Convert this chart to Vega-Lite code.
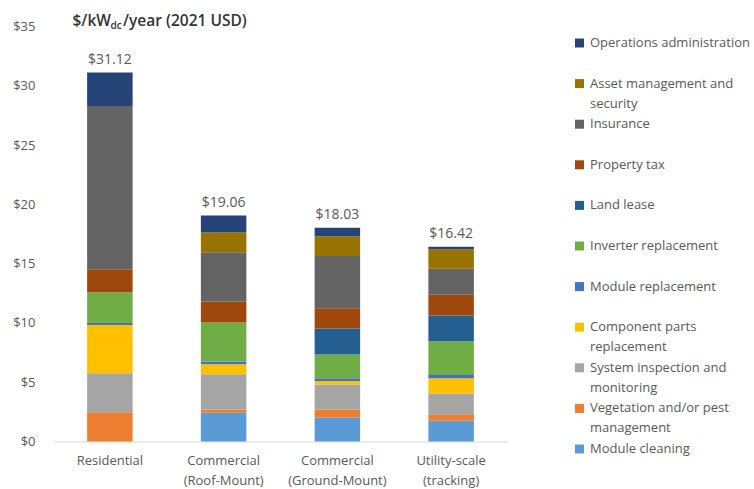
{
  "$schema": "https://vega.github.io/schema/vega-lite/v6.json",
  "autosize": {"type": "none"},
  "width": 455,
  "height": 415,
  "padding": {"left": 53, "top": 26.5, "right": 246, "bottom": 47.5},
  "background": "white",
  "config": {
    "view": {"stroke": null},
    "font": "Open Sans",
    "style": {"guide-label": {"lineHeight": 20}}
  },
  "datasets": {
    "costs": [
      {"segment": "Residential", "component": "Module cleaning", "cost": 0},
      {"segment": "Residential", "component": "Vegetation and/or pest management", "cost": 2.46},
      {"segment": "Residential", "component": "System inspection and monitoring", "cost": 3.29},
      {"segment": "Residential", "component": "Component parts replacement", "cost": 4.07},
      {"segment": "Residential", "component": "Module replacement", "cost": 0.18},
      {"segment": "Residential", "component": "Inverter replacement", "cost": 2.58},
      {"segment": "Residential", "component": "Land lease", "cost": 0},
      {"segment": "Residential", "component": "Property tax", "cost": 1.94},
      {"segment": "Residential", "component": "Insurance", "cost": 13.77},
      {"segment": "Residential", "component": "Asset management and security", "cost": 0},
      {"segment": "Residential", "component": "Operations administration", "cost": 2.83},
      {"segment": "Commercial (Roof-Mount)", "component": "Module cleaning", "cost": 2.42},
      {"segment": "Commercial (Roof-Mount)", "component": "Vegetation and/or pest management", "cost": 0.28},
      {"segment": "Commercial (Roof-Mount)", "component": "System inspection and monitoring", "cost": 2.98},
      {"segment": "Commercial (Roof-Mount)", "component": "Component parts replacement", "cost": 0.84},
      {"segment": "Commercial (Roof-Mount)", "component": "Module replacement", "cost": 0.22},
      {"segment": "Commercial (Roof-Mount)", "component": "Inverter replacement", "cost": 3.29},
      {"segment": "Commercial (Roof-Mount)", "component": "Land lease", "cost": 0},
      {"segment": "Commercial (Roof-Mount)", "component": "Property tax", "cost": 1.77},
      {"segment": "Commercial (Roof-Mount)", "component": "Insurance", "cost": 4.16},
      {"segment": "Commercial (Roof-Mount)", "component": "Asset management and security", "cost": 1.66},
      {"segment": "Commercial (Roof-Mount)", "component": "Operations administration", "cost": 1.44},
      {"segment": "Commercial (Ground-Mount)", "component": "Module cleaning", "cost": 2.02},
      {"segment": "Commercial (Ground-Mount)", "component": "Vegetation and/or pest management", "cost": 0.67},
      {"segment": "Commercial (Ground-Mount)", "component": "System inspection and monitoring", "cost": 2.11},
      {"segment": "Commercial (Ground-Mount)", "component": "Component parts replacement", "cost": 0.31},
      {"segment": "Commercial (Ground-Mount)", "component": "Module replacement", "cost": 0.22},
      {"segment": "Commercial (Ground-Mount)", "component": "Inverter replacement", "cost": 2.0},
      {"segment": "Commercial (Ground-Mount)", "component": "Land lease", "cost": 2.19},
      {"segment": "Commercial (Ground-Mount)", "component": "Property tax", "cost": 1.71},
      {"segment": "Commercial (Ground-Mount)", "component": "Insurance", "cost": 4.41},
      {"segment": "Commercial (Ground-Mount)", "component": "Asset management and security", "cost": 1.66},
      {"segment": "Commercial (Ground-Mount)", "component": "Operations administration", "cost": 0.73},
      {"segment": "Utility-scale (tracking)", "component": "Module cleaning", "cost": 1.74},
      {"segment": "Utility-scale (tracking)", "component": "Vegetation and/or pest management", "cost": 0.56},
      {"segment": "Utility-scale (tracking)", "component": "System inspection and monitoring", "cost": 1.74},
      {"segment": "Utility-scale (tracking)", "component": "Component parts replacement", "cost": 1.29},
      {"segment": "Utility-scale (tracking)", "component": "Module replacement", "cost": 0.28},
      {"segment": "Utility-scale (tracking)", "component": "Inverter replacement", "cost": 2.84},
      {"segment": "Utility-scale (tracking)", "component": "Land lease", "cost": 2.18},
      {"segment": "Utility-scale (tracking)", "component": "Property tax", "cost": 1.74},
      {"segment": "Utility-scale (tracking)", "component": "Insurance", "cost": 2.2},
      {"segment": "Utility-scale (tracking)", "component": "Asset management and security", "cost": 1.65},
      {"segment": "Utility-scale (tracking)", "component": "Operations administration", "cost": 0.2}
    ],
    "totals": [
      {"segment": "Residential", "total": 31.12},
      {"segment": "Commercial (Roof-Mount)", "total": 19.06},
      {"segment": "Commercial (Ground-Mount)", "total": 18.03},
      {"segment": "Utility-scale (tracking)", "total": 16.42}
    ]
  },
  "encoding": {
    "x": {
      "field": "segment",
      "type": "nominal",
      "sort": ["Residential", "Commercial (Roof-Mount)", "Commercial (Ground-Mount)", "Utility-scale (tracking)"],
      "scale": {"paddingInner": 0.6, "paddingOuter": 0.3},
      "axis": {
        "labelAngle": 0,
        "labelFontSize": 13,
        "labelColor": "#595959",
        "labelPadding": 13,
        "labelBaseline": "top",
        "ticks": false,
        "domainColor": "#d9d9d9",
        "domainWidth": 1,
        "labelExpr": "indexof(datum.label, ' (') > 0 ? [substring(datum.label, 0, indexof(datum.label, ' (')), substring(datum.label, indexof(datum.label, ' (') + 1)] : datum.label",
        "title": "dc",
        "titleFontSize": 10,
        "titleFontWeight": 600,
        "titleColor": "#333333",
        "titleAngle": 0,
        "titleAlign": "left",
        "titleBaseline": "middle",
        "titleX": 57,
        "titleY": -416
      }
    }
  },
  "layer": [
    {
      "data": {"name": "costs"},
      "transform": [
        {"calculate": "indexof(['Operations administration','Asset management and security','Insurance','Property tax','Land lease','Inverter replacement','Module replacement','Component parts replacement','System inspection and monitoring','Vegetation and/or pest management','Module cleaning'], datum.component)", "as": "rank"}
      ],
      "mark": {"type": "bar"},
      "encoding": {
        "y": {
          "field": "cost",
          "type": "quantitative",
          "stack": "zero",
          "scale": {"domain": [0, 35], "nice": false},
          "axis": {
            "values": [0, 5, 10, 15, 20, 25, 30, 35],
            "labelExpr": "'$' + datum.value",
            "labelFontSize": 13,
            "labelColor": "#595959",
            "labelPadding": 18,
            "ticks": false,
            "domain": false,
            "grid": false,
            "title": "$/kW\u00a0\u00a0\u00a0/year (2021 USD)",
            "titleFontSize": 15.5,
            "titleFontWeight": 600,
            "titleColor": "#333333",
            "titleAngle": 0,
            "titleAlign": "left",
            "titleBaseline": "middle",
            "titleX": 19,
            "titleY": -6.5
          }
        },
        "order": {"field": "rank", "type": "quantitative", "sort": "descending"},
        "color": {
          "field": "component",
          "type": "nominal",
          "scale": {
            "domain": ["Operations administration", "Asset management and security", "Insurance", "Property tax", "Land lease", "Inverter replacement", "Module replacement", "Component parts replacement", "System inspection and monitoring", "Vegetation and/or pest management", "Module cleaning"],
            "range": ["#264478", "#997300", "#636363", "#9e480e", "#255e91", "#70ad47", "#4472c4", "#ffc000", "#a5a5a5", "#ed7d31", "#5b9bd5"]
          },
          "legend": {
            "title": null,
            "orient": "none",
            "legendX": 520,
            "legendY": 10,
            "padding": 0,
            "symbolType": "square",
            "symbolSize": 81,
            "symbolStrokeWidth": 0,
            "symbolOpacity": 1,
            "labelFontSize": 13,
            "labelColor": "#595959",
            "labelOffset": 4,
            "labelLimit": 400,
            "labelBaseline": "middle",
            "gridAlign": "all",
            "rowPadding": 6.6,
            "labelExpr": "datum.label == 'Asset management and security' ? ['Asset management and', 'security'] : datum.label == 'Component parts replacement' ? ['Component parts', 'replacement'] : datum.label == 'System inspection and monitoring' ? ['System inspection and', 'monitoring'] : datum.label == 'Vegetation and/or pest management' ? ['Vegetation and/or pest', 'management'] : datum.label"
          }
        }
      }
    },
    {
      "data": {"name": "totals"},
      "mark": {"type": "text", "dy": -13, "fontSize": 14, "color": "#595959", "baseline": "middle"},
      "encoding": {
        "y": {"field": "total", "type": "quantitative"},
        "text": {"field": "total", "type": "quantitative", "format": "$.2f"}
      }
    }
  ]
}
